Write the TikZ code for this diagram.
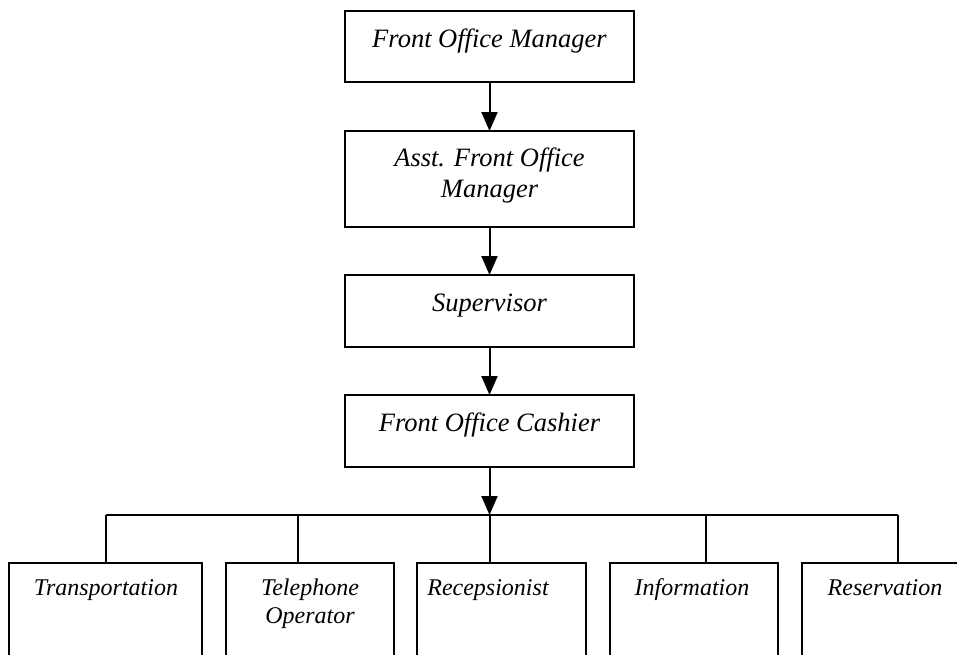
\documentclass[tikz,border=0pt]{standalone}
\usepackage{fontspec}
\setmainfont{Liberation Serif}
\usetikzlibrary{arrows.meta}
\begin{document}
\begin{tikzpicture}[x=1pt,y=-1pt,
  box/.style={draw, line width=2pt, inner sep=0pt, outer sep=0pt, anchor=north west},
  lbl/.style={font=\fontsize{26.5}{32}\selectfont\itshape, anchor=base, inner sep=0pt},
  slbl/.style={font=\fontsize{24}{28}\selectfont\itshape, anchor=base, inner sep=0pt},
  arr/.style={line width=2pt, -{Triangle[length=19pt,width=16pt]}},
  ln/.style={line width=2pt}]
\useasboundingbox (0,0) rectangle (957,654);
\clip (0,0) rectangle (957,654);
\fill[white] (0,0) rectangle (957,654);
% main chain
\node[box, minimum width=289pt, minimum height=71pt] (fom) at (345,11) {};
\node[box, minimum width=289pt, minimum height=96pt] (afom) at (345,131) {};
\node[box, minimum width=289pt, minimum height=72pt] (sup) at (345,275) {};
\node[box, minimum width=289pt, minimum height=72pt] (foc) at (345,395) {};
\node[lbl] (tfom) at (489.5,47) {Front Office Manager};
\node[lbl] (tafom1) at (489.5,166) {Asst. Front Office};
\node[lbl] (tafom2) at (489.5,197) {Manager};
\node[lbl] (tsup) at (489.5,311) {Supervisor};
\node[lbl] (tfoc) at (489.5,431) {Front Office Cashier};
% bottom row
\node[box, minimum width=193pt, minimum height=150pt] (b1) at (9,563) {};
\node[box, minimum width=168pt, minimum height=150pt] (b2) at (226,563) {};
\node[box, minimum width=169pt, minimum height=150pt] (b3) at (417,563) {};
\node[box, minimum width=168pt, minimum height=150pt] (b4) at (610,563) {};
\node[box, minimum width=200pt, minimum height=150pt] (b5) at (802,563) {};
\node[slbl] (t1) at (106,595) {Transportation};
\node[slbl] (t2a) at (310,595) {Telephone};
\node[slbl] (t2b) at (310,623) {Operator};
\node[slbl] (t3) at (488,595) {Recepsionist};
\node[slbl] (t4) at (692,595) {Information};
\node[slbl] (t5) at (885,595) {Reservation};
% connectors
\draw[arr] (fom.south) -- (afom.north);
\draw[arr] (afom.south) -- (sup.north);
\draw[arr] (sup.south) -- (foc.north);
\coordinate (bus) at (489.5,515);
\draw[arr] (foc.south) -- (bus);
\coordinate (d1) at (106,515);
\coordinate (d2) at (298,515);
\coordinate (d3) at (489.5,515);
\coordinate (d4) at (706,515);
\coordinate (d5) at (898,515);
\draw[ln] (d1) -- (d5);
\draw[ln] (d1) -- (d1 |- b1.north);
\draw[ln] (d2) -- (d2 |- b2.north);
\draw[ln] (d3) -- (d3 |- b3.north);
\draw[ln] (d4) -- (d4 |- b4.north);
\draw[ln] (d5) -- (d5 |- b5.north);
\end{tikzpicture}
\end{document}
